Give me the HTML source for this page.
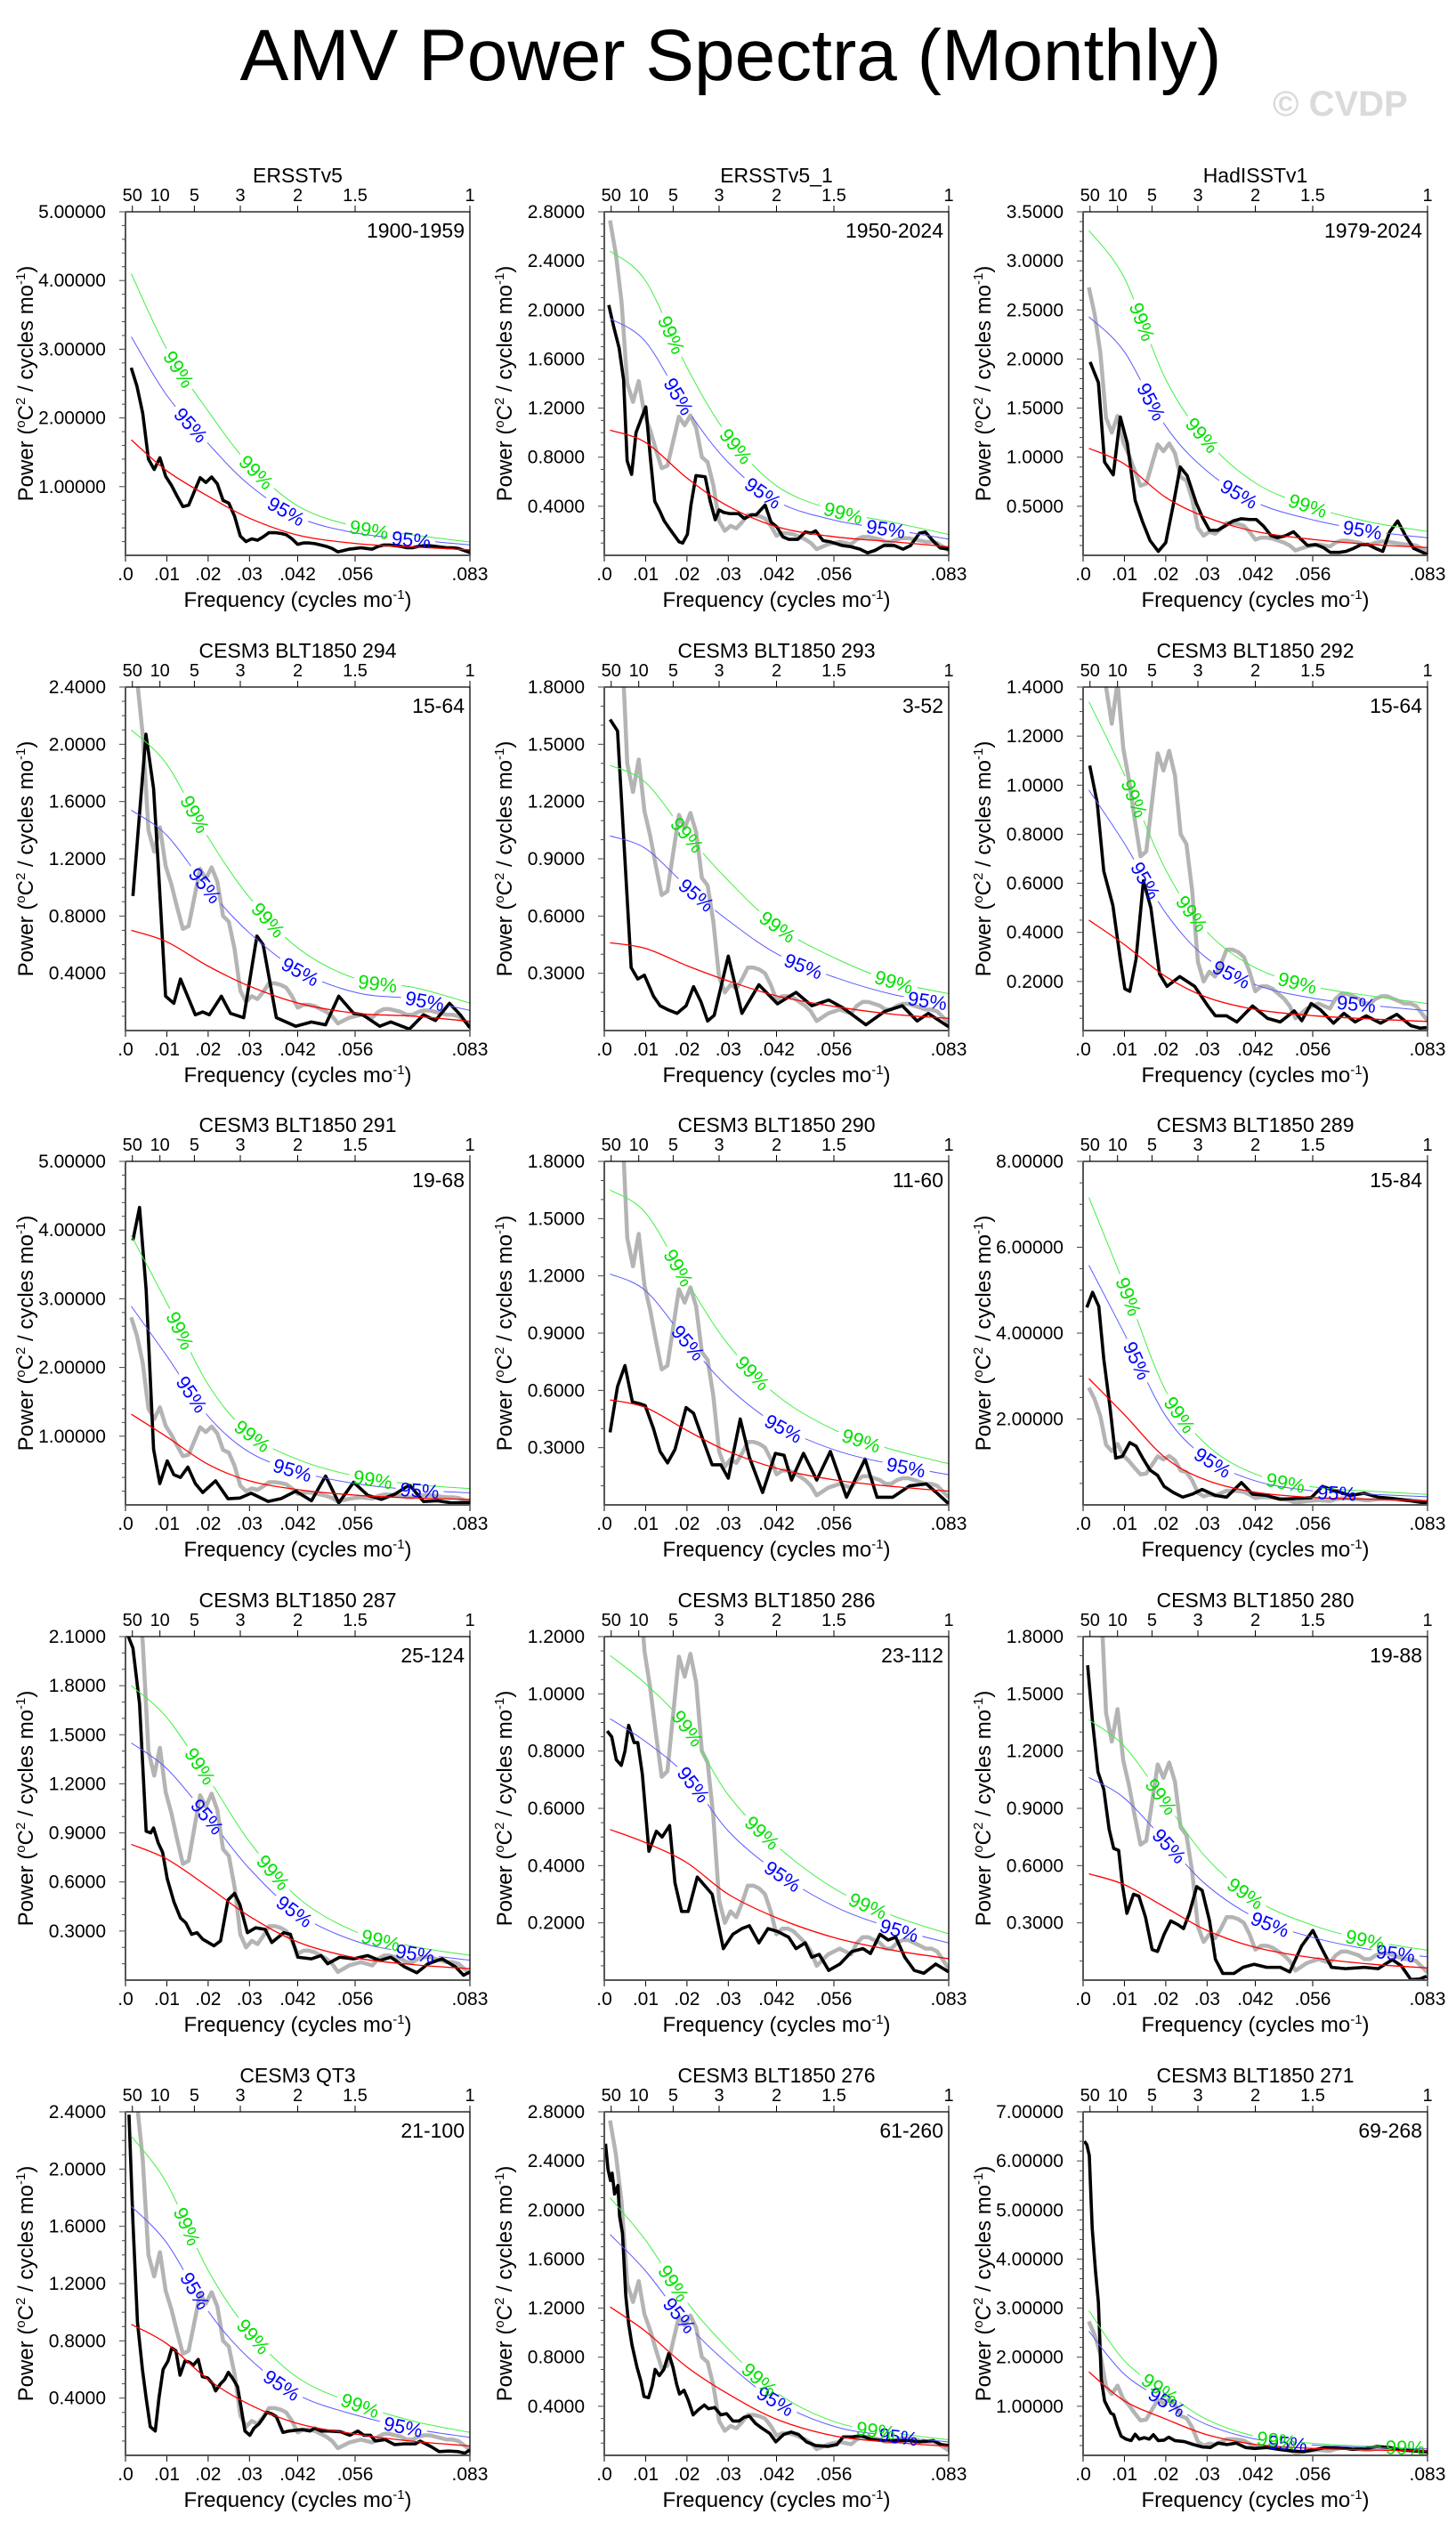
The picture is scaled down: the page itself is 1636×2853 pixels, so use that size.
<!DOCTYPE html>
<html><head><meta charset="utf-8"><title>AMV Power Spectra (Monthly)</title>
<style>
html,body{margin:0;padding:0;background:#fff;}
svg{display:block;font-family:"Liberation Sans",Arial,sans-serif;}
</style></head>
<body>
<svg id="fig" xmlns="http://www.w3.org/2000/svg" width="1636" height="2853" viewBox="0 0 1636 2853">
<rect x="0" y="0" width="1636" height="2853" fill="#fff"/>
<text x="821" y="90" font-size="82" text-anchor="middle" fill="#000">AMV Power Spectra (Monthly)</text>
<text x="1430" y="130" font-size="40" font-weight="bold" fill="#dadada">© CVDP</text>
<defs id="defs"></defs>
<g id="panels"></g>
</svg>
<script>
// ---------- chart data ----------
const panelTitles = ["ERSSTv5","ERSSTv5_1","HadISSTv1","CESM3 BLT1850 294","CESM3 BLT1850 293","CESM3 BLT1850 292","CESM3 BLT1850 291","CESM3 BLT1850 290","CESM3 BLT1850 289","CESM3 BLT1850 287","CESM3 BLT1850 286","CESM3 BLT1850 280","CESM3 QT3","CESM3 BLT1850 276","CESM3 BLT1850 271"];
const panelPeriods = ["1900-1959","1950-2024","1979-2024","15-64","3-52","15-64","19-68","11-60","15-84","25-124","23-112","19-88","21-100","61-260","69-268"];
const yMax = [5,2.8,3.5,2.4,1.8,1.4,5,1.8,8,2.1,1.2,1.8,2.4,2.8,7];
const yStep = [1,0.4,0.5,0.4,0.3,0.2,1,0.3,2,0.3,0.2,0.3,0.4,0.4,1];
const yMinorPerMajor = [5,4,5,4,3,4,5,3,4,3,4,3,4,4,5];
const hasGray = [false,true,true,true,true,true,true,true,true,true,true,true,true,true,true];
const bottomTickFreq = [0,10,20,30,41.667,55.556,83.333]; // 1e-3 cycles/mo
const bottomTickLabels = [".0",".01",".02",".03",".042",".056",".083"];
const topTickPeriods = [50,10,5,3,2,1.5,1]; // years
const topTickLabels = ["50","10","5","3","2","1.5","1"];

// panel 1 (ERSSTv5 1900-1959): 60 spectral estimates at k/720 cycles/mo
const p1Power = [2.73,2.46,2.07,1.40,1.25,1.42,1.15,1.02,0.86,0.71,0.73,0.93,1.13,1.06,1.14,1.04,0.80,0.76,0.57,0.28,0.20,0.24,0.22,0.27,0.33,0.33,0.32,0.30,0.24,0.16,0.18,0.18,0.17,0.15,0.13,0.10,0.05,0.07,0.09,0.10,0.11,0.10,0.09,0.13,0.15,0.15,0.14,0.13,0.11,0.11,0.13,0.14,0.14,0.13,0.12,0.11,0.11,0.10,0.07,0.04];
const p1Freq = p1Power.map((v,i)=>(i+1)*1000/720);

const p2Freq = [1.08,2.30,3.59,4.67,5.53,6.61,7.68,8.90,10.05,11.13,12.21,13.43,14.50,15.94,17.23,18.09,18.96,20.10,20.97,22.19,24.41,25.63,26.85,27.79,28.86,30.30,32.45,33.89,35.68,36.76,38.92,40.35,41.79,43.22,44.66,46.81,48.61,50.04,51.12,52.92,54.71,57.58,59.74,61.89,63.69,65.48,67.64,70.15,72.30,74.10,76.25,77.69,79.48,81.28,83.3];
const p2Power = [2.04,1.86,1.69,1.43,0.77,0.66,1.00,1.11,1.21,0.80,0.44,0.36,0.28,0.21,0.15,0.11,0.10,0.17,0.41,0.65,0.64,0.44,0.29,0.37,0.35,0.34,0.34,0.30,0.33,0.33,0.41,0.27,0.23,0.15,0.13,0.13,0.19,0.18,0.20,0.12,0.11,0.08,0.07,0.05,0.02,0.04,0.08,0.08,0.05,0.08,0.18,0.19,0.12,0.06,0.05];
const p3Freq = [1.7,3.7,5.2,7.3,9,10.7,12.6,14.4,16.2,18.2,20,21.8,23.5,25.2,27.4,28.9,30.6,32.5,34.4,36.3,38.3,40.2,41.9,43.6,45.5,47,49,50.9,52.8,54.3,56.2,58.1,59.8,62,63.6,65.4,67.3,68.9,70.8,72.5,74.2,76.1,78,80,83.2];
const p3Power = [1.97,1.76,0.95,0.82,1.41,1.14,0.56,0.34,0.15,0.04,0.13,0.51,0.90,0.81,0.53,0.385,0.255,0.255,0.30,0.35,0.373,0.365,0.365,0.30,0.20,0.18,0.20,0.24,0.16,0.10,0.11,0.08,0.03,0.03,0.04,0.07,0.11,0.11,0.07,0.04,0.24,0.35,0.20,0.07,0.01];
const p4Freq = [1.8,4.95,6.8,7.9,9.7,11.7,13.3,16.9,18.7,20.3,23.2,25.4,28.6,31.8,33.3,36.5,41.2,45,48.4,51.6,55.2,57.4,61.5,64.2,68.7,72.1,75,78.4,81,83.3];
const p4Power = [0.94,2.07,1.69,1.17,0.24,0.19,0.36,0.11,0.13,0.11,0.24,0.12,0.09,0.66,0.60,0.09,0.03,0.06,0.04,0.24,0.12,0.11,0.03,0.06,0.01,0.11,0.07,0.19,0.11,0.02];
const p5Freq = [1.4,3.2,6.5,8.1,9.7,11.9,13.5,15.3,17.6,19.8,21.6,23.4,25,26.6,30,33.3,37.4,41.9,46.4,50.2,54.3,57.7,63.3,67.8,72.1,75.7,78.4,83.3];
const p5Power = [1.63,1.57,0.33,0.27,0.29,0.18,0.13,0.11,0.09,0.13,0.23,0.15,0.05,0.08,0.39,0.09,0.24,0.14,0.20,0.13,0.16,0.12,0.03,0.10,0.13,0.05,0.09,0.02];
const p6Freq = [1.6,3.4,5,7.2,9,10.1,11.3,12.8,14.6,16.4,18.5,20.3,23.4,27,30.2,32,34.7,37.2,41,44.6,47.7,51.1,52.9,55.2,57.4,60.6,63.1,65.8,68.5,72,75.9,79.3,81.5,83.1];
const p6Power = [1.08,0.93,0.65,0.51,0.29,0.17,0.16,0.29,0.61,0.50,0.23,0.18,0.22,0.18,0.10,0.06,0.06,0.035,0.10,0.05,0.035,0.08,0.04,0.11,0.085,0.03,0.07,0.035,0.06,0.03,0.066,0.02,0.01,0.012];
const p7Freq = [1.8,3.4,5,6.8,8.3,10.1,11.7,13.3,15.1,16.9,18.7,21.8,24.8,27.7,30.4,34.5,37.6,41.2,45,48.4,51.6,55.2,58.6,61.9,65.3,68.7,72.1,75.5,78.8,83.3];
const p7Power = [3.85,4.33,3.13,0.81,0.31,0.64,0.44,0.40,0.55,0.31,0.18,0.35,0.09,0.10,0.17,0.05,0.09,0.20,0.06,0.42,0.03,0.33,0.14,0.08,0.16,0.29,0.05,0.06,0.03,0.035];
const p8Freq = [1.4,3.2,5,6.8,8.6,9.9,11.9,13.5,15.3,17.1,19.8,21.6,23.9,26.1,28.2,30,32.9,35.1,38.3,41.4,43.5,45.3,48.2,51.4,54.7,58.6,63.1,66,69.8,73.9,77.9,80.6,83.3];
const p8Power = [0.38,0.62,0.73,0.54,0.53,0.52,0.40,0.28,0.22,0.29,0.51,0.48,0.34,0.21,0.21,0.14,0.45,0.25,0.065,0.27,0.26,0.13,0.27,0.13,0.28,0.04,0.24,0.04,0.04,0.10,0.11,0.06,0.006];
const p9Freq = [0.9,2.3,3.8,5,6.5,7.9,9.5,11.3,12.8,14.6,16.2,18,19.6,21.8,24.1,26.4,28.8,32,34.7,38.3,41,44.4,47.7,51.8,55.2,57.9,61.3,64.6,68,71.4,74.8,78.2,83.1];
const p9Power = [4.60,4.95,4.62,3.40,2.28,1.09,1.13,1.45,1.37,1.06,0.81,0.69,0.43,0.29,0.18,0.25,0.36,0.22,0.18,0.52,0.25,0.22,0.13,0.15,0.17,0.43,0.32,0.22,0.27,0.18,0.15,0.11,0.04];
const p10Freq = [0.7,1.8,3.4,5,6.1,6.8,7.9,9,10.1,11.7,13.3,14.6,16,17.3,18.7,21.4,23,24.8,26.4,27.7,29.5,31.5,33.8,35.4,38.3,39.9,41.7,45,47.3,48.9,51.8,55.2,58.6,61.5,64.2,67.6,70.5,73.2,76.6,79.9,81.8,83.3];
const p10Power = [2.10,2.03,1.69,0.91,0.90,0.93,0.84,0.78,0.62,0.48,0.38,0.35,0.28,0.29,0.25,0.21,0.24,0.49,0.53,0.46,0.29,0.32,0.31,0.23,0.29,0.28,0.14,0.13,0.15,0.10,0.14,0.13,0.15,0.12,0.14,0.08,0.045,0.10,0.13,0.08,0.03,0.05];
const p11Freq = [0.7,1.8,2.9,4.1,5,5.9,7.2,8.1,9.2,10.8,12.6,14,15.8,17.1,18.7,20.3,22.5,24.3,26.1,28.8,31.1,33.3,35.1,37.4,39.6,41.9,44.6,46.4,48.6,50.2,52,54.3,57,59.9,62.6,64.4,66.7,68.7,70.5,72.7,75,77.3,80.2,83.3];
const p11Power = [0.87,0.85,0.77,0.75,0.80,0.89,0.83,0.83,0.72,0.45,0.52,0.50,0.54,0.34,0.24,0.24,0.36,0.33,0.30,0.11,0.16,0.18,0.19,0.13,0.18,0.17,0.15,0.11,0.13,0.08,0.09,0.034,0.056,0.10,0.11,0.093,0.16,0.14,0.15,0.08,0.034,0.024,0.056,0.029];
const p12Freq = [1.1,2.3,3.6,5,6.3,7.4,8.6,9.5,10.6,12.2,13.5,15.1,16.7,18,19.6,21.2,23,24.3,25.7,27.5,28.8,30.6,32,33.8,36.5,38.7,41.4,44.4,47.7,50,52.9,55.6,57.4,60.1,63.5,68,71.4,74.8,77,79.3,81.5,83.1];
const p12Power = [1.65,1.35,1.09,1.00,0.79,0.69,0.68,0.50,0.35,0.45,0.44,0.33,0.16,0.15,0.24,0.31,0.29,0.27,0.35,0.49,0.47,0.31,0.11,0.035,0.035,0.067,0.083,0.067,0.067,0.043,0.18,0.26,0.18,0.067,0.06,0.067,0.06,0.107,0.075,0.003,0.006,0.02];
const p13Freq = [0.85,1.8,2.9,4.1,5,6,7.2,8.1,9.1,10.3,11.2,12.2,13.2,14.4,15.5,16.4,17.6,18.6,19.9,21.1,21.8,23,24,24.9,26.1,27.1,28,28.9,30.1,31.1,32.3,33.3,34.2,35.4,36.5,38.1,39.6,41.1,42.7,44.6,45.8,47.3,49.3,52,54.3,56.2,57.7,59.3,60.4,62.8,65.1,67.4,70.1,71.3,74,75.9,78.2,80.5,82.1,83.3];
const p13Power = [2.38,1.63,0.93,0.60,0.40,0.20,0.17,0.40,0.60,0.66,0.75,0.73,0.56,0.66,0.65,0.63,0.67,0.55,0.54,0.50,0.45,0.50,0.53,0.58,0.53,0.48,0.33,0.17,0.14,0.19,0.22,0.26,0.30,0.29,0.27,0.16,0.17,0.175,0.18,0.17,0.19,0.17,0.17,0.165,0.14,0.17,0.14,0.14,0.10,0.11,0.075,0.08,0.08,0.10,0.06,0.026,0.03,0.026,0.015,0.037];
const p14Freq = [0.3,0.9,1.5,1.9,2.5,3.3,3.7,4.4,5.2,5.9,6.7,7.9,8.9,9.6,10.7,11.6,12.3,13.3,14.4,15.6,16.6,17.5,18.2,19.3,20.3,21.5,22.7,24.2,25.2,26.7,28.2,29.6,31.1,32.6,33.8,35.1,36.6,38.2,40,41.5,43.4,45.2,47,48.9,51.1,54.1,56.3,57.8,60,62.2,64.5,67.4,70.4,73.7,76.3,79.6,81.5,83.3];
const p14Power = [2.54,2.33,2.24,2.30,2.13,2.20,1.95,1.81,1.30,1.07,0.90,0.72,0.60,0.48,0.47,0.57,0.70,0.65,0.70,0.83,0.72,0.58,0.50,0.53,0.45,0.33,0.37,0.41,0.38,0.39,0.33,0.34,0.28,0.28,0.31,0.32,0.26,0.22,0.18,0.11,0.17,0.19,0.17,0.11,0.08,0.073,0.088,0.15,0.15,0.16,0.13,0.12,0.12,0.12,0.11,0.12,0.088,0.08];
const p15Freq = [0.3,0.9,1.5,2.2,3,3.7,4.4,5.2,5.9,6.7,7.4,8.2,9.2,10.4,11.6,12.6,13.6,14.8,16,17,18.2,19.6,20.7,22.2,24.5,26.7,28.9,30.8,32.6,34.8,37.1,39.3,41.5,44.5,47.4,50.4,53.4,56.3,59.3,62.2,65.2,68.2,71.1,74.1,77.1,80,83.3];
const p15Power = [6.40,6.33,6.11,4.63,3.75,3.12,1.55,1.11,0.99,0.86,0.83,0.61,0.39,0.33,0.30,0.43,0.33,0.36,0.33,0.42,0.30,0.31,0.37,0.30,0.28,0.22,0.17,0.16,0.25,0.22,0.25,0.16,0.14,0.16,0.12,0.09,0.075,0.12,0.17,0.16,0.12,0.14,0.18,0.16,0.11,0.09,0.075];

// red-noise spectra sampled at these frequencies (1e-3 cycles/mo)
const redFreq = [1.4,10,20,30,42,56,70,83.3];
const red1 = [1.68,1.23,0.86,0.54,0.29,0.17,0.12,0.08];
const red2 = [1.02,0.92,0.63,0.40,0.23,0.15,0.11,0.07];
const red3 = [1.09,0.93,0.59,0.385,0.24,0.16,0.11,0.08];
const red4 = [0.70,0.62,0.45,0.31,0.19,0.12,0.10,0.064];
const red5 = [0.46,0.43,0.34,0.26,0.18,0.125,0.085,0.064];
const red6 = [0.45,0.35,0.22,0.135,0.085,0.06,0.047,0.037];
const red7 = [1.32,0.99,0.59,0.35,0.22,0.14,0.10,0.08];
const red8 = [0.55,0.51,0.39,0.28,0.19,0.13,0.096,0.072];
const red9 = [2.94,2.10,1.09,0.57,0.29,0.17,0.13,0.10];
const red10 = [0.83,0.74,0.57,0.39,0.23,0.135,0.094,0.07];
const red11 = [0.526,0.48,0.41,0.30,0.216,0.147,0.104,0.075];
const red12 = [0.557,0.50,0.38,0.26,0.17,0.116,0.083,0.064];
const red13 = [0.915,0.78,0.53,0.355,0.22,0.147,0.097,0.066];
const red14 = [1.21,1.01,0.72,0.50,0.29,0.156,0.106,0.073];
const red15 = [1.70,1.11,0.74,0.42,0.22,0.14,0.107,0.088];
// confidence curves: value at the lowest frequency (scales the red-noise curve)
const sig95Start = [3.18,1.93,2.43,1.54,1.02,0.98,2.89,1.21,5.58,1.45,0.913,1.062,1.74,1.80,2.53];
const sig99Start = [4.10,2.48,3.31,2.10,1.39,1.34,3.92,1.65,7.16,1.80,1.134,1.364,2.23,2.10,2.95];

const seriesFreq = [p1Freq,p2Freq,p3Freq,p4Freq,p5Freq,p6Freq,p7Freq,p8Freq,p9Freq,p10Freq,p11Freq,p12Freq,p13Freq,p14Freq,p15Freq];
const seriesPower = [p1Power,p2Power,p3Power,p4Power,p5Power,p6Power,p7Power,p8Power,p9Power,p10Power,p11Power,p12Power,p13Power,p14Power,p15Power];
const redPower = [red1,red2,red3,red4,red5,red6,red7,red8,red9,red10,red11,red12,red13,red14,red15];

// ---------- layout ----------
const COLS = [141,679,1217];
const ROWS = [238,772,1305,1839,2373];
const PW = 387, PH = 386, FMAX = 1000/12;
const NS = "http://www.w3.org/2000/svg";
const root = document.getElementById('panels');
const defs = document.getElementById('defs');

function mk(tag, attrs, parent){
  const e = document.createElementNS(NS, tag);
  for (const k in attrs) e.setAttribute(k, attrs[k]);
  if (parent) parent.appendChild(e);
  return e;
}
function catmull(pts){
  let d = "M"+pts[0][0].toFixed(2)+","+pts[0][1].toFixed(2);
  for (let i=0;i<pts.length-1;i++){
    const p0=pts[Math.max(0,i-1)], p1=pts[i], p2=pts[i+1], p3=pts[Math.min(pts.length-1,i+2)];
    const c1x=p1[0]+(p2[0]-p0[0])/6, c1y=p1[1]+(p2[1]-p0[1])/6;
    const c2x=p2[0]-(p3[0]-p1[0])/6, c2y=p2[1]-(p3[1]-p1[1])/6;
    d += " C"+c1x.toFixed(2)+","+c1y.toFixed(2)+" "+c2x.toFixed(2)+","+c2y.toFixed(2)+" "+p2[0].toFixed(2)+","+p2[1].toFixed(2);
  }
  return d;
}
function fmt(v, dec){ return v.toFixed(dec); }

for (let p=0;p<15;p++){
  const L = COLS[p%3], T = ROWS[Math.floor(p/3)], R = L+PW, B = T+PH;
  const ymax = yMax[p];
  const xs = f => L + f/FMAX*PW;
  const ys = v => B - v/ymax*PH;
  const g = mk('g', {}, root);
  
  

  const clipId = 'clip'+p;
  const cp = mk('clipPath', {id:clipId}, defs);
  mk('rect', {x:L, y:T, width:PW, height:PH}, cp);

  const title = mk('text', {x:L+PW/2, y:T-33, 'font-size':23, 'text-anchor':'middle', fill:'#000'}, g);
  title.textContent = panelTitles[p];
  
  
  const per = mk('text', {x:R-6, y:T+29, 'font-size':23, 'text-anchor':'end', fill:'#000'}, g);
  per.textContent = panelPeriods[p];
  
  

  const dec = ymax >= 5 ? 5 : 4;
  const minor = yStep[p]/yMinorPerMajor[p];
  const nMinor = Math.round(ymax/minor);
  for (let k=1;k<=nMinor;k++){
    const v = k*minor, y = ys(v);
    const isMajor = k % yMinorPerMajor[p] === 0;
    const tk = mk('line', {x1:L, x2:L-(isMajor?7:4), y1:y, y2:y, stroke:'#444', 'stroke-width':1}, g);
    
    
    if (isMajor){
      const t = mk('text', {x:L-22, y:y+7, 'font-size':21, 'text-anchor':'end', fill:'#000'}, g);
      t.textContent = fmt(v, dec);
      
      
    }
  }
  for (let k=0;k<bottomTickFreq.length;k++){
    const x = xs(bottomTickFreq[k]);
    const tk = mk('line', {x1:x, x2:x, y1:B, y2:B+7, stroke:'#000', 'stroke-width':1}, g);
    
    
    const t = mk('text', {x:x, y:B+28, 'font-size':21, 'text-anchor':'middle', fill:'#000'}, g);
    t.textContent = bottomTickLabels[k];
    
    
  }
  for (let k=0;k<topTickPeriods.length;k++){
    const x = xs(1000/(12*topTickPeriods[k]));
    const tk = mk('line', {x1:x, x2:x, y1:T, y2:T-7, stroke:'#000', 'stroke-width':1}, g);
    
    
    const t = mk('text', {x:x, y:T-12, 'font-size':20, 'text-anchor':'middle', fill:'#000'}, g);
    t.textContent = topTickLabels[k];
    
    
  }
  const xt = mk('text', {x:L+PW/2, y:B+58, 'font-size':24, 'text-anchor':'middle', fill:'#000'}, g);
  xt.innerHTML = 'Frequency (cycles mo<tspan dy="-9" font-size="15">-1</tspan><tspan dy="9">)</tspan>';
  
  
  const yt = mk('text', {x:0, y:0, 'font-size':24, 'text-anchor':'middle', fill:'#000', transform:'translate('+(L-104)+','+(T+PH/2)+') rotate(-90)'}, g);
  yt.innerHTML = 'Power (<tspan dy="-9" font-size="15">o</tspan><tspan dy="9">C</tspan><tspan dy="-9" font-size="15">2</tspan><tspan dy="9"> / cycles mo</tspan><tspan dy="-9" font-size="15">-1</tspan><tspan dy="9">)</tspan>';
  
  

  const lines = mk('g', {'clip-path':'url(#'+clipId+')'}, g);
  if (hasGray[p]){
    const pts = p1Freq.map((f,i)=>xs(f).toFixed(2)+','+ys(p1Power[i]).toFixed(2)).join(' ');
    const gl = mk('polyline', {points:pts, fill:'none', stroke:'#b4b4b4', 'stroke-width':4.5, 'stroke-linejoin':'round'}, lines);
    
    
  }
  const fr = seriesFreq[p], pw = seriesPower[p];
  const n = Math.min(fr.length, pw.length);
  const bpts = [];
  for (let i=0;i<n;i++) bpts.push(xs(fr[i]).toFixed(2)+','+ys(pw[i]).toFixed(2));
  const bl = mk('polyline', {points:bpts.join(' '), fill:'none', stroke:'#000', 'stroke-width':3.6, 'stroke-linejoin':'round'}, lines);
  
  

  const rp = redPower[p];
  const red = mk('path', {d:catmull(redFreq.map((f,i)=>[xs(f),ys(rp[i])])), fill:'none', stroke:'#ff0000', 'stroke-width':1.3}, lines);
  
  

  const confs = [
    {ratio: sig95Start[p]/rp[0], color:'#5a5aff', label:'95%', lcolor:'#0000ff', name:'conf-95'},
    {ratio: sig99Start[p]/rp[0], color:'#44ee44', label:'99%', lcolor:'#00e000', name:'conf-99'}
  ];
  confs.forEach((c,ci)=>{
    const maskId = 'm'+p+'_'+ci;
    const mask = mk('mask', {id:maskId, maskUnits:'userSpaceOnUse', x:0, y:0, width:1636, height:2853}, defs);
    mk('rect', {x:0, y:0, width:1636, height:2853, fill:'#fff'}, mask);
    const path = mk('path', {d:catmull(redFreq.map((f,i)=>[xs(f),ys(rp[i]*c.ratio)])), fill:'none', stroke:c.color, 'stroke-width':1, mask:'url(#'+maskId+')'}, lines);
    
    
    const total = path.getTotalLength();
    [120,265,410].forEach(s=>{
      if (s > total-15) return;
      const a = path.getPointAtLength(s-3), b = path.getPointAtLength(s+3), m = path.getPointAtLength(s);
      if (m.y < T || m.y > B) return;
      const ang = Math.atan2(b.y-a.y, b.x-a.x)*180/Math.PI;
      mk('rect', {x:m.x-27, y:m.y-11, width:54, height:22, fill:'#000', transform:'rotate('+ang.toFixed(2)+' '+m.x.toFixed(2)+' '+m.y.toFixed(2)+')'}, mask);
      const t = mk('text', {x:m.x, y:m.y+8, 'font-size':22, 'text-anchor':'middle', fill:c.lcolor, transform:'rotate('+ang.toFixed(2)+' '+m.x.toFixed(2)+' '+m.y.toFixed(2)+')'}, g);
      t.textContent = c.label;
      
      
    });
  });

  const fr1 = mk('path', {d:'M'+L+','+T+' H'+R+' V'+B, fill:'none', stroke:'#000', 'stroke-width':1.3}, g);
  
  
  const fr2 = mk('path', {d:'M'+L+','+T+' V'+B+' H'+R, fill:'none', stroke:'#555', 'stroke-width':2}, g);
  
  
}
</script>
</body></html>
